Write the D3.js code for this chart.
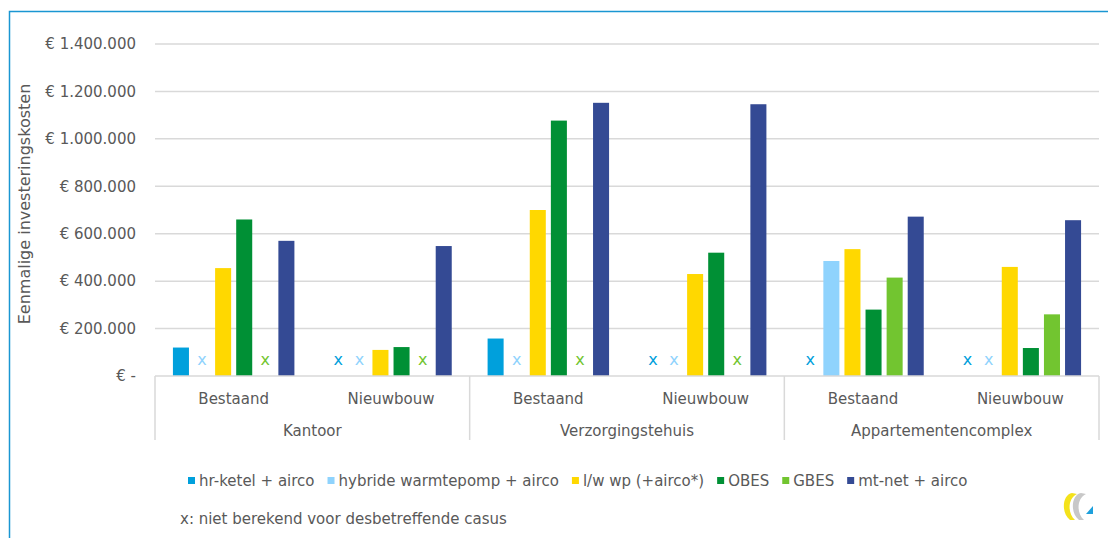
<!DOCTYPE html>
<html>
<head>
<meta charset="utf-8">
<script src="https://cdn.jsdelivr.net/npm/d3@7"></script>
<style>
  body { margin: 0; background: #fff; }
  text { font-family: "DejaVu Sans", sans-serif; fill: #595959; }
</style>
</head>
<body>
<svg id="chart" width="1108" height="538"></svg>
<script>
// data
var categories = ["Kantoor", "Verzorgingstehuis", "Appartementencomplex"];
var subcats = ["Bestaand", "Nieuwbouw"];
var series = ["hr-ketel + airco", "hybride warmtepomp + airco", "l/w wp (+airco*)", "OBES", "GBES", "mt-net + airco"];
var colors = ["#00a0dc", "#8fd3fd", "#ffd800", "#009035", "#72c530", "#344a94"];
// waarden per serie, volgorde: Kantoor B/N, Verzorgingstehuis B/N, Appartementencomplex B/N (null = x)
var hrKetel  = [120000, null, 158000, null, null, null];
var hybride  = [null, null, null, null, 485000, null];
var lwwp     = [455000, 110000, 700000, 430000, 535000, 460000];
var obes     = [660000, 122000, 1077000, 520000, 280000, 118000];
var gbes     = [null, null, null, null, 415000, 260000];
var mtnet    = [570000, 548000, 1152000, 1146000, 672000, 657000];
var values = [hrKetel, hybride, lwwp, obes, gbes, mtnet];
var yTicks = [0, 200000, 400000, 600000, 800000, 1000000, 1200000, 1400000];

var svg = d3.select("#chart");

// kader
svg.append("path")
  .attr("d", "M9.5,538 L9.5,11.5 L1108,11.5")
  .attr("fill", "none")
  .attr("stroke", "#1a96d2")
  .attr("stroke-width", 1.5);

var plotLeft = 155, plotRight = 1099, plotTop = 44, plotBottom = 376;

var y = d3.scaleLinear().domain([0, 1400000]).range([plotBottom, plotTop]);
var x0 = d3.scaleBand().domain(categories).range([plotLeft, plotRight]);
var x1 = d3.scaleBand().domain(subcats).range([0, x0.bandwidth()]);
var x2 = d3.scaleBand().domain(series).range([0, x1.bandwidth()]).paddingInner(0.24).paddingOuter(0.85);

function fmt(v) {
  if (v === 0) return "€ -";
  return "€ " + d3.format(",")(v).replace(/,/g, ".");
}

// gridlines
svg.append("g").selectAll("line")
  .data(yTicks.filter(function(d) { return d > 0; }))
  .enter().append("line")
  .attr("x1", plotLeft).attr("x2", plotRight)
  .attr("y1", function(d) { return y(d); })
  .attr("y2", function(d) { return y(d); })
  .attr("stroke", "#d9d9d9")
  .attr("stroke-width", 1.5);

// y tick labels
svg.append("g").selectAll("text")
  .data(yTicks)
  .enter().append("text")
  .attr("x", 136)
  .attr("y", function(d) { return y(d); })
  .attr("dy", "0.35em")
  .attr("text-anchor", "end")
  .style("font-size", "15px")
  .text(fmt);

// y title
svg.append("text")
  .attr("transform", "translate(30,204) rotate(-90)")
  .attr("text-anchor", "middle")
  .style("font-size", "16px")
  .text("Eenmalige investeringskosten");

// bars
var groups = [];
categories.forEach(function(c) {
  subcats.forEach(function(s) { groups.push({cat: c, sub: s}); });
});

var g = svg.append("g").selectAll("g")
  .data(groups)
  .enter().append("g")
  .attr("transform", function(d) { return "translate(" + (x0(d.cat) + x1(d.sub)) + ",0)"; });

g.each(function(d, gi) {
  var sel = d3.select(this);
  series.forEach(function(s, si) {
    var v = values[si][gi];
    if (v === null) {
      sel.append("text")
        .attr("x", x2(s) + x2.bandwidth() / 2)
        .attr("y", 365)
        .attr("text-anchor", "middle")
        .style("font-size", "16px")
        .style("fill", colors[si])
        .text("x");
    } else {
      sel.append("rect")
        .attr("x", x2(s))
        .attr("width", x2.bandwidth())
        .attr("y", y(v))
        .attr("height", y(0) - y(v))
        .attr("fill", colors[si]);
    }
  });
});

// x axis
svg.append("line")
  .attr("x1", plotLeft).attr("x2", plotRight)
  .attr("y1", plotBottom).attr("y2", plotBottom)
  .attr("stroke", "#d9d9d9").attr("stroke-width", 1.5);

var bounds = categories.map(function(c) { return x0(c); }).concat([plotRight]);
svg.append("g").selectAll("line")
  .data(bounds)
  .enter().append("line")
  .attr("x1", function(d) { return d; }).attr("x2", function(d) { return d; })
  .attr("y1", plotBottom).attr("y2", 440)
  .attr("stroke", "#d9d9d9").attr("stroke-width", 1.5);

svg.append("g").selectAll("text")
  .data(groups)
  .enter().append("text")
  .attr("x", function(d) { return x0(d.cat) + x1(d.sub) + x1.bandwidth() / 2; })
  .attr("y", 404)
  .attr("text-anchor", "middle")
  .style("font-size", "15px")
  .text(function(d) { return d.sub; });

svg.append("g").selectAll("text")
  .data(categories)
  .enter().append("text")
  .attr("x", function(d) { return x0(d) + x0.bandwidth() / 2; })
  .attr("y", 436)
  .attr("text-anchor", "middle")
  .style("font-size", "15px")
  .text(function(d) { return d; });

// legend
var legend = svg.append("g");
var lx = 188;
series.forEach(function(s, i) {
  legend.append("rect")
    .attr("x", lx).attr("y", 477)
    .attr("width", 7).attr("height", 7)
    .attr("fill", colors[i]);
  var t = legend.append("text")
    .attr("x", lx + 11).attr("y", 486)
    .style("font-size", "15px")
    .text(s);
  lx += 11 + t.node().getComputedTextLength() + 13;
});

svg.append("text")
  .attr("x", 180).attr("y", 524)
  .style("font-size", "15px")
  .text("x: niet berekend voor desbetreffende casus");

// logo
var logo = svg.append("g").attr("transform", "translate(1061,491)");
logo.append("path")
  .attr("d", "M11,2 C1,4 0,22 9,29 L14,29 C6,22 7,7 16,3 Z")
  .attr("fill", "#f4e21b");
logo.append("path")
  .attr("d", "M20,2 C10,4 9,22 18,29 L23,29 C15,22 16,7 25,3 Z")
  .attr("fill", "#c8c8c8");
logo.append("path")
  .attr("d", "M25,23 L32,15 L32,23 Z")
  .attr("fill", "#1ea0dc");
</script>
</body>
</html>
